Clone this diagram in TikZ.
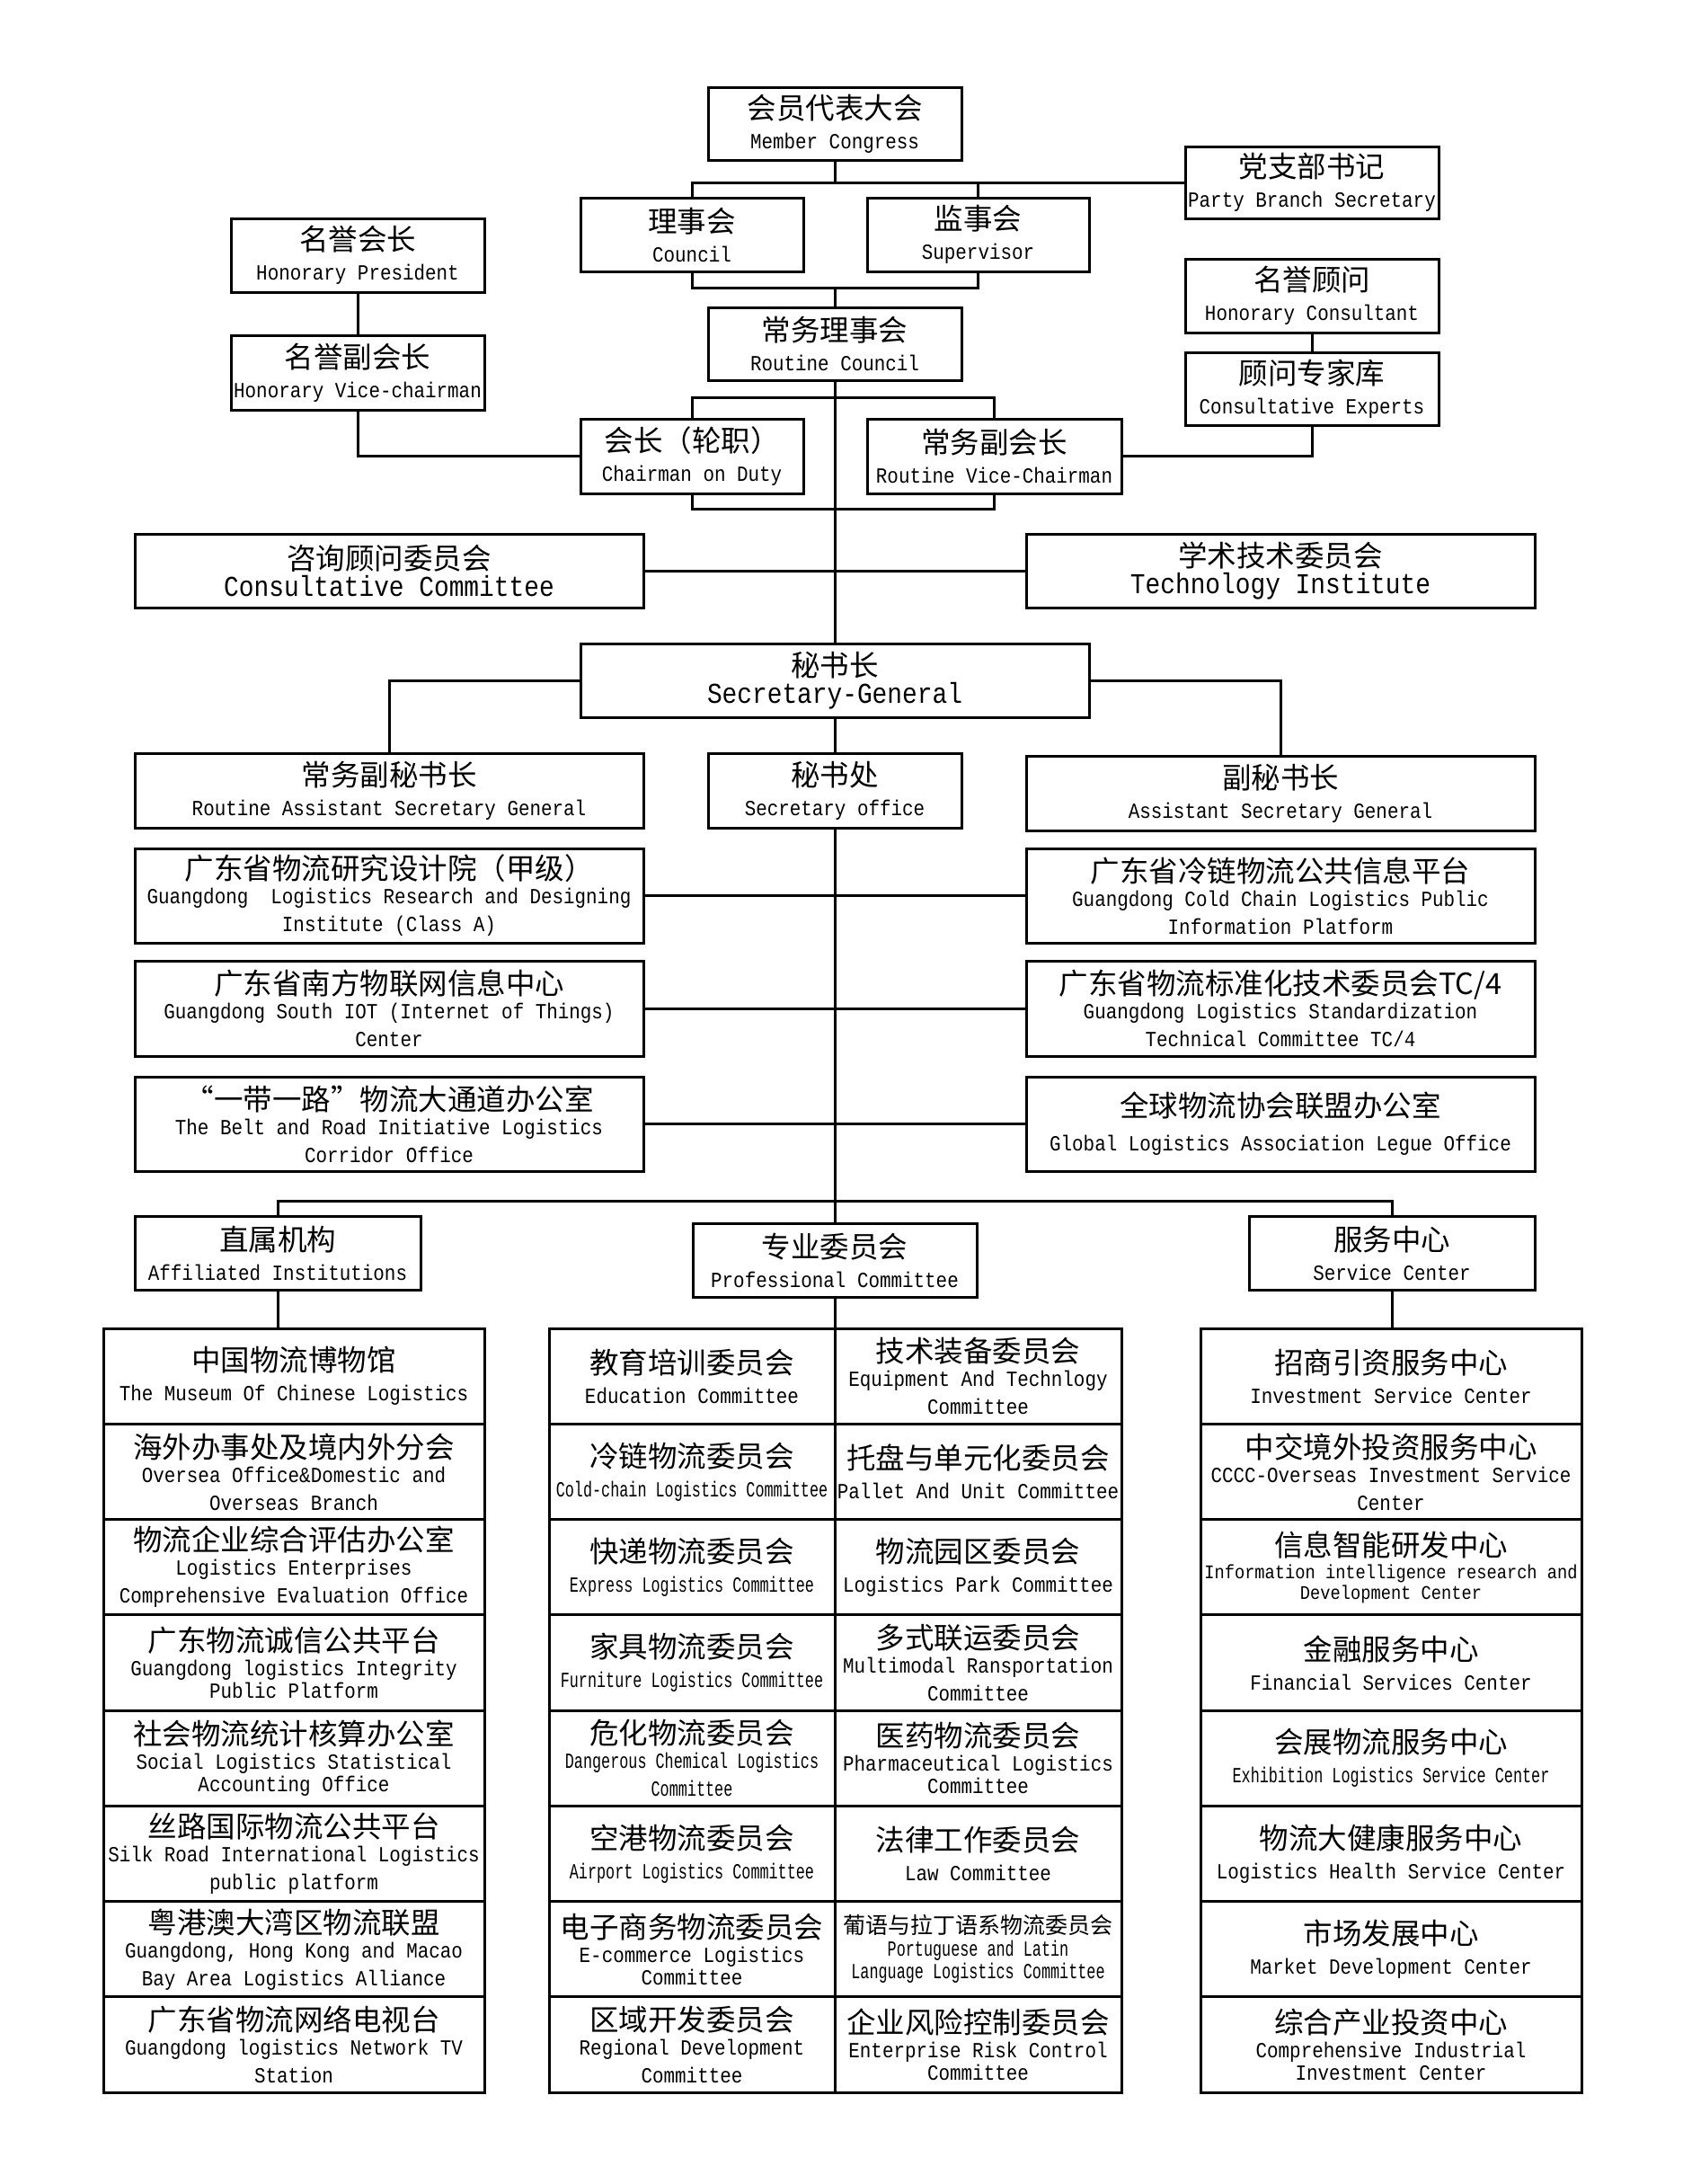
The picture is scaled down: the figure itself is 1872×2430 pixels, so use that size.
\documentclass[tikz,border=0pt]{standalone}
\usepackage{fontspec}
\newfontfamily\fzh{Noto Sans CJK SC}
\newfontfamily\fen[FakeStretch=0.87]{Liberation Mono}
\newfontfamily\fenc[FakeStretch=0.70]{Liberation Mono}
\newcommand\ZH[2][32.5]{{\fzh\fontsize{#1}{#1}\selectfont #2}}
\newcommand\EN[2][24]{{\fen\fontsize{#1}{#1}\selectfont #2}}
\newcommand\ENC[2][24]{{\fenc\fontsize{#1}{#1}\selectfont #2}}
\newcommand\two[2]{\ZH{#1}\\\EN{#2}}
\newcommand\thr[3]{\ZH{#1}\\[-6pt]\EN{#2}\\[-2pt]\EN{#3}}
\newcommand\thrt[3]{\ZH{#1}\\[-6pt]\EN{#2}\\[-8pt]\EN{#3}}
\newcommand\bx[7][]{\node[box,minimum width={((#5)-(#3))*1pt},minimum height={((#6)-(#4))*1pt},#1] (#2) at ({((#3)+(#5))/2},{((#4)+(#6))/2}) {#7};}
\newcommand\cell[6][]{\bx[#1]{#2}{#3}{1478+106.25*((#5)-1)}{#4}{1478+106.25*(#5)}{#6}}
\begin{document}
\begin{tikzpicture}[x=1pt,y=-1pt,
  box/.style={draw,line width=3pt,inner sep=0pt,align=center,font=\fontsize{24}{33}\selectfont},
  conn/.style={line width=3pt}]
\fill[white] (0,0) rectangle (1872,2430);
\useasboundingbox (0,0) rectangle (1872,2430);
% top part
\bx{mc}{788}{98}{1070}{178}{\two{会员代表大会}{Member Congress}}
\bx{pbs}{1319}{163}{1601}{243}{\two{党支部书记}{Party Branch Secretary}}
\bx{council}{646}{220}{894}{302}{\two{理事会}{Council}}
\bx{sup}{965}{220}{1212}{302}{\two{监事会}{Supervisor}}
\bx{hp}{257}{243}{539}{325}{\two{名誉会长}{Honorary President}}
\bx{hc}{1319}{288}{1601}{370}{\two{名誉顾问}{Honorary Consultant}}
\bx{rc}{788}{342}{1070}{423}{\two{常务理事会}{Routine Council}}
\bx{hv}{257}{373}{539}{456}{\two{名誉副会长}{Honorary Vice-chairman}}
\bx{ce}{1319}{392}{1601}{473}{\two{顾问专家库}{Consultative Experts}}
\bx{chair}{646}{466}{894}{549}{\two{会长（轮职）}{Chairman on Duty}}
\bx{vchair}{965}{466}{1248}{549}{\two{常务副会长}{Routine Vice-Chairman}}
\bx{cc}{150}{594}{716}{676}{\ZH{咨询顾问委员会}\\[-3pt]\EN[32]{Consultative Committee}}
\bx{ti}{1142}{594}{1708}{676}{\ZH{学术技术委员会}\\[-3pt]\EN[32]{Technology Institute}}
\bx{sg}{646}{716}{1212}{798}{\ZH{秘书长}\\[-3pt]\EN[32]{Secretary-General}}
\bx{ras}{150}{838}{716}{921}{\two{常务副秘书长}{Routine Assistant Secretary General}}
\bx{so}{788}{838}{1070}{921}{\two{秘书处}{Secretary office}}
\bx{asg}{1142}{841}{1708}{924}{\two{副秘书长}{Assistant Secretary General}}
\bx{l1}{150}{944}{716}{1049}{\thr{广东省物流研究设计院（甲级）}{Guangdong~ Logistics Research and Designing}{Institute (Class A)}}
\bx{r1}{1142}{944}{1708}{1049}{\thr{广东省冷链物流公共信息平台}{Guangdong Cold Chain Logistics Public}{Information Platform}}
\bx{l2}{150}{1069}{716}{1175}{\thr{广东省南方物联网信息中心}{Guangdong South IOT (Internet of Things)}{Center}}
\bx{r2}{1142}{1069}{1708}{1175}{\thr{广东省物流标准化技术委员会TC/4}{Guangdong Logistics Standardization}{Technical Committee TC/4}}
\bx{l3}{150}{1198}{716}{1303}{\thr{“一带一路”物流大通道办公室}{The Belt and Road Initiative Logistics}{Corridor Office}}
\bx{r3}{1142}{1198}{1708}{1303}{\ZH{全球物流协会联盟办公室}\\[5pt]\EN{Global Logistics Association Legue Office}}
\bx{zs}{150}{1353}{468}{1435}{\two{直属机构}{Affiliated Institutions}}
\bx{zw}{771}{1361}{1087}{1443}{\two{专业委员会}{Professional Committee}}
\bx{fw}{1390}{1353}{1708}{1435}{\two{服务中心}{Service Center}}
% column A
\cell{a1}{115}{539}{1}{\two{中国物流博物馆}{The Museum Of Chinese Logistics}}
\cell{a2}{115}{539}{2}{\thr{海外办事处及境内外分会}{Oversea Office\&Domestic and}{Overseas Branch}}
\cell{a3}{115}{539}{3}{\thr{物流企业综合评估办公室}{Logistics Enterprises}{Comprehensive Evaluation Office}}
\cell{a4}{115}{539}{4}{\thrt{广东物流诚信公共平台}{Guangdong logistics Integrity}{Public Platform}}
\cell{a5}{115}{539}{5}{\thrt{社会物流统计核算办公室}{Social Logistics Statistical}{Accounting Office}}
\cell{a6}{115}{539}{6}{\thr{丝路国际物流公共平台}{Silk Road International Logistics}{public platform}}
\cell{a7}{115}{539}{7}{\thr{粤港澳大湾区物流联盟}{Guangdong, Hong Kong and Macao}{Bay Area Logistics Alliance}}
\cell{a8}{115}{539}{8}{\thr{广东省物流网络电视台}{Guangdong logistics Network TV}{Station}}
% column B
\cell{b1}{611}{929}{1}{\two{教育培训委员会}{Education Committee}}
\cell{b2}{611}{929}{2}{\ZH{冷链物流委员会}\\\ENC{Cold-chain Logistics Committee}}
\cell{b3}{611}{929}{3}{\ZH{快递物流委员会}\\\ENC{Express Logistics Committee}}
\cell{b4}{611}{929}{4}{\ZH{家具物流委员会}\\\ENC{Furniture Logistics Committee}}
\cell{b5}{611}{929}{5}{\ZH{危化物流委员会}\\[-6pt]\ENC{Dangerous Chemical Logistics}\\[-2pt]\ENC{Committee}}
\cell{b6}{611}{929}{6}{\ZH{空港物流委员会}\\\ENC{Airport Logistics Committee}}
\cell{b7}{611}{929}{7}{\thrt{电子商务物流委员会}{E-commerce Logistics}{Committee}}
\cell{b8}{611}{929}{8}{\thr{区域开发委员会}{Regional Development}{Committee}}
% column C
\cell{c1}{929}{1248}{1}{\thr{技术装备委员会}{Equipment And Technlogy}{Committee}}
\cell{c2}{929}{1248}{2}{\two{托盘与单元化委员会}{Pallet And Unit Committee}}
\cell{c3}{929}{1248}{3}{\two{物流园区委员会}{Logistics Park Committee}}
\cell{c4}{929}{1248}{4}{\thr{多式联运委员会}{Multimodal Ransportation}{Committee}}
\cell{c5}{929}{1248}{5}{\thrt{医药物流委员会}{Pharmaceutical Logistics}{Committee}}
\cell{c6}{929}{1248}{6}{\two{法律工作委员会}{Law Committee}}
\cell{c7}{929}{1248}{7}{\ZH[25]{葡语与拉丁语系物流委员会}\\[-8pt]\ENC{Portuguese and Latin}\\[-8pt]\ENC{Language Logistics Committee}}
\cell{c8}{929}{1248}{8}{\thrt{企业风险控制委员会}{Enterprise Risk Control}{Committee}}
% column D
\cell{d1}{1336}{1760}{1}{\two{招商引资服务中心}{Investment Service Center}}
\cell{d2}{1336}{1760}{2}{\thr{中交境外投资服务中心}{CCCC-Overseas Investment Service}{Center}}
\cell{d3}{1336}{1760}{3}{\ZH{信息智能研发中心}\\[-8pt]\EN[21.5]{Information intelligence research and}\\[-10pt]\EN[21.5]{Development Center}}
\cell{d4}{1336}{1760}{4}{\two{金融服务中心}{Financial Services Center}}
\cell{d5}{1336}{1760}{5}{\ZH{会展物流服务中心}\\\ENC{Exhibition Logistics Service Center}}
\cell{d6}{1336}{1760}{6}{\two{物流大健康服务中心}{Logistics Health Service Center}}
\cell{d7}{1336}{1760}{7}{\two{市场发展中心}{Market Development Center}}
\cell{d8}{1336}{1760}{8}{\thrt{综合产业投资中心}{Comprehensive Industrial}{Investment Center}}
% connectors
\coordinate (j1) at (929,320);
\coordinate (j2) at (929,442);
\coordinate (j3) at (929,566);
\coordinate (j4) at (929,1336);
\draw[conn] (mc.south) -- (mc.south |- pbs.west);
\draw[conn] (council.north) |- (pbs.west);
\draw[conn] (sup.north) -- (sup.north |- pbs.west);
\draw[conn] (council.south) |- (j1) -| (sup.south);
\draw[conn] (j1) -- (rc.north);
\draw[conn] (rc.south) -- (sg.north);
\draw[conn] (sg.south) -- (so.north);
\draw[conn] (so.south) -- (zw.north);
\draw[conn] (chair.north) |- (j2) -| (vchair.north);
\draw[conn] (chair.south) |- (j3) -| (vchair.south);
\draw[conn] (hp.south) -- (hv.north);
\draw[conn] (hv.south) |- (chair.west);
\draw[conn] (hc.south) -- (ce.north);
\draw[conn] (ce.south) |- (vchair.east);
\draw[conn] (cc.east) -- (ti.west);
\draw[conn] (sg.west) -| (ras.north);
\draw[conn] (sg.east) -| (asg.north);
\draw[conn] (l1.east) -- (r1.west);
\draw[conn] (l2.east) -- (r2.west);
\draw[conn] (l3.east) -- (r3.west);
\draw[conn] (zs.north) |- (j4) -| (fw.north);
\draw[conn] (zs.south) -- (zs.south |- a1.north);
\draw[conn] (zw.south) -- (zw.south |- b1.north);
\draw[conn] (fw.south) -- (fw.south |- d1.north);
\end{tikzpicture}
\end{document}
